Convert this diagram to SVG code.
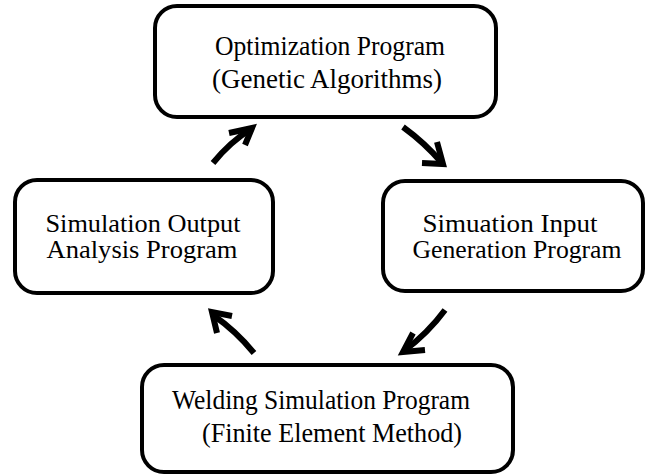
<svg xmlns="http://www.w3.org/2000/svg" width="647" height="475" viewBox="0 0 647 475">
<style>
.box{fill:#fff;stroke:#000;stroke-width:4}
.t{font-family:"Liberation Serif","Times New Roman",serif;font-size:27px;fill:#000;text-anchor:middle}
.s{font-size:25px}
.arr{fill:none;stroke:#000;stroke-width:6;stroke-linecap:butt;stroke-linejoin:miter}
</style>
<rect width="647" height="475" fill="#fff"/>
<g id="optimization">
<rect class="box" x="155" y="6" width="341" height="111" rx="22"/>
<text class="t" x="330" y="55" textLength="230" lengthAdjust="spacingAndGlyphs">Optimization Program</text>
<text class="t" x="327" y="88" textLength="230" lengthAdjust="spacingAndGlyphs">(Genetic Algorithms)</text>
</g>
<g id="input-generation">
<rect class="box" x="383" y="181" width="260" height="110" rx="22"/>
<text class="t s" x="510" y="232" textLength="175" lengthAdjust="spacingAndGlyphs">Simuation Input</text>
<text class="t s" x="517" y="258" textLength="209" lengthAdjust="spacingAndGlyphs">Generation Program</text>
</g>
<g id="welding">
<rect class="box" x="142" y="365" width="371" height="107" rx="22"/>
<text class="t" x="321" y="409" textLength="298" lengthAdjust="spacingAndGlyphs">Welding Simulation Program</text>
<text class="t" x="332" y="442" textLength="260" lengthAdjust="spacingAndGlyphs">(Finite Element Method)</text>
</g>
<g id="output-analysis">
<rect class="box" x="15" y="180" width="258" height="113" rx="22"/>
<text class="t s" x="143" y="232" textLength="195" lengthAdjust="spacingAndGlyphs">Simulation Output</text>
<text class="t s" x="142" y="258" textLength="191" lengthAdjust="spacingAndGlyphs">Analysis Program</text>
</g>
<g id="connectors">
<path class="arr" d="M213,163 Q230,142 251,129"/>
<path class="arr" d="M229,133 L252,128 L245,145"/>
<path class="arr" d="M403,127 Q425,143 442,163"/>
<path class="arr" d="M437,142 L443,164 L422,163"/>
<path class="arr" d="M445,310 Q428,333 404,351"/>
<path class="arr" d="M413,333 L403,352 L425,350"/>
<path class="arr" d="M254,353 Q236,331 213,315"/>
<path class="arr" d="M232,316 L212,312 L217,333"/>
</g>
</svg>
